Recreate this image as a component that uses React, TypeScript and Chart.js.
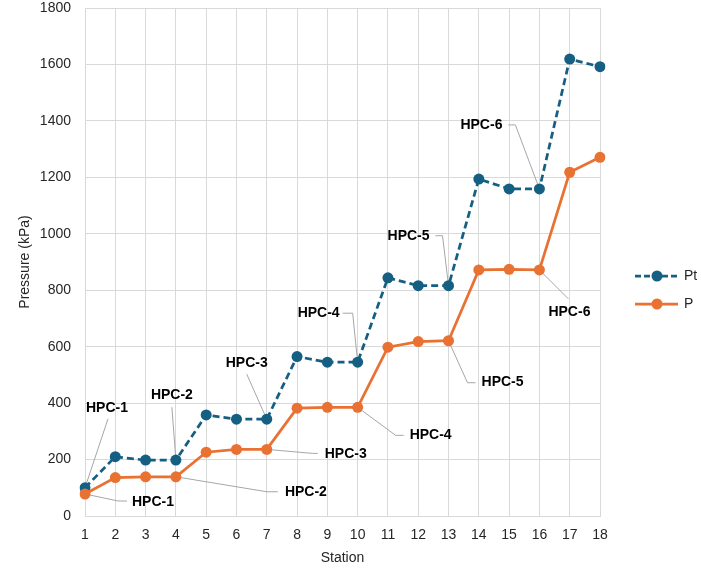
import React, { useEffect, useRef } from 'react';
import { Chart, registerables } from 'chart.js';

Chart.register(...registerables);

// ---------- data ----------
const stations = ['1', '2', '3', '4', '5', '6', '7', '8', '9', '10', '11', '12', '13', '14', '15', '16', '17', '18'];
const seriesNames = ['Pt', 'P'];
const ptValues = [100, 210, 198, 198, 358, 343, 343, 565, 545, 545, 844, 816, 816, 1194, 1159, 1159, 1619, 1592];
const pValues = [78, 136, 139, 139, 226, 236, 236, 382, 385, 385, 598, 618, 621, 872, 874, 872, 1218, 1271];
const yMin = 0;
const yMax = 1800;
const yStep = 200;
const xTitle = 'Station';
const yTitle = 'Pressure (kPa)';
const stageLabels = ['HPC-1', 'HPC-2', 'HPC-3', 'HPC-4', 'HPC-5', 'HPC-6'];
const stageStationIndex = [0, 3, 6, 9, 12, 15];

// ---------- styles / layout ----------
const FONT = '"Liberation Sans", Arial, sans-serif';
const BLUE = '#156082';
const ORANGE = '#E97132';
const GRID = '#D9D9D9';
const TEXT = '#262626';
const LEADER = '#A6A6A6';

// callout placement: offset of label centre from its point, and leader path (relative to label centre)
const ptCallouts = [
  { dx: 22, dy: -80, leader: [[1, 11]] },
  { dx: -4, dy: -65, leader: [[0, 12]] },
  { dx: -20, dy: -56, leader: [[0, 11]] },
  { dx: -39, dy: -49, leader: [[24, 0], [34, 0]] },
  { dx: -40, dy: -50, leader: [[27, 0], [34, 0]] },
  { dx: -58, dy: -64, leader: [[27, 0], [34, 0]] },
];
const pCallouts = [
  { dx: 68, dy: 8, leader: [[-26, -1], [-35, -1]] },
  { dx: 130, dy: 15, leader: [[-28, 0], [-39, 0]] },
  { dx: 79, dy: 5, leader: [[-28, -1], [-33, -1]] },
  { dx: 73, dy: 28, leader: [[-27, 0], [-35, 0]] },
  { dx: 54, dy: 41, leader: [[-27, 1], [-35, 1]] },
  { dx: 30, dy: 42, leader: [[-1, -13]] },
];

const callouts = [
  ...ptCallouts.map((c, i) => ({ ...c, series: 0, index: stageStationIndex[i], text: stageLabels[i] })),
  ...pCallouts.map((c, i) => ({ ...c, series: 1, index: stageStationIndex[i], text: stageLabels[i] })),
];

const calloutPlugin = {
  id: 'callouts',
  beforeDatasetsDraw(chart: any) {
    const ctx = chart.ctx;
    ctx.save();
    ctx.strokeStyle = LEADER;
    ctx.lineWidth = 1;
    ctx.setLineDash([]);
    for (const a of callouts) {
      const el = chart.getDatasetMeta(a.series).data[a.index];
      if (!el) continue;
      const px = el.x, py = el.y;
      const lx = px + a.dx, ly = py + a.dy;
      ctx.beginPath();
      a.leader.forEach(([ox, oy]: number[], i: number) => {
        if (i === 0) ctx.moveTo(lx + ox, ly + oy);
        else ctx.lineTo(lx + ox, ly + oy);
      });
      ctx.lineTo(px, py);
      ctx.stroke();
    }
    ctx.restore();
  },
  afterDatasetsDraw(chart: any) {
    const ctx = chart.ctx;
    ctx.save();
    ctx.font = `bold 14px ${FONT}`;
    ctx.fillStyle = '#000';
    ctx.textAlign = 'center';
    ctx.textBaseline = 'middle';
    for (const a of callouts) {
      const el = chart.getDatasetMeta(a.series).data[a.index];
      if (!el) continue;
      ctx.fillText(a.text, el.x + a.dx, el.y + a.dy);
    }
    ctx.restore();
  },
};

const legendPlugin = {
  id: 'customLegend',
  afterDraw(chart: any) {
    const ctx = chart.ctx;
    const items = [
      { name: seriesNames[0], color: BLUE, dash: [6, 3], y: 276 },
      { name: seriesNames[1], color: ORANGE, dash: [], y: 304 },
    ];
    ctx.save();
    for (const it of items) {
      ctx.strokeStyle = it.color;
      ctx.lineWidth = 2.75;
      ctx.setLineDash(it.dash);
      ctx.beginPath();
      ctx.moveTo(635, it.y);
      ctx.lineTo(678, it.y);
      ctx.stroke();
      ctx.setLineDash([]);
      ctx.fillStyle = it.color;
      ctx.beginPath();
      ctx.arc(657, it.y, 5.5, 0, Math.PI * 2);
      ctx.fill();
      ctx.fillStyle = TEXT;
      ctx.font = `14px ${FONT}`;
      ctx.textAlign = 'left';
      ctx.textBaseline = 'middle';
      ctx.fillText(it.name, 684, it.y);
    }
    ctx.restore();
  },
};

export default function App() {
  const canvasRef = useRef<HTMLCanvasElement | null>(null);

  useEffect(() => {
    if (!canvasRef.current) return;
    const chart = new Chart(canvasRef.current, {
      type: 'line',
      data: {
        labels: stations,
        datasets: [
          {
            label: seriesNames[0],
            data: ptValues,
            borderColor: BLUE,
            backgroundColor: BLUE,
            borderWidth: 2.75,
            borderDash: [7, 4],
            pointRadius: 5.5,
            pointBorderWidth: 0,
            pointBackgroundColor: BLUE,
            tension: 0,
            order: 1,
          },
          {
            label: seriesNames[1],
            data: pValues,
            borderColor: ORANGE,
            backgroundColor: ORANGE,
            borderWidth: 2.75,
            pointRadius: 5.5,
            pointBorderWidth: 0,
            pointBackgroundColor: ORANGE,
            tension: 0,
            order: 0,
          },
        ],
      },
      options: {
        responsive: false,
        animation: false,
        layout: { padding: { left: 0, top: 0, right: 101, bottom: 0 } },
        plugins: {
          legend: { display: false },
          tooltip: { enabled: false },
        },
        scales: {
          x: {
            type: 'category',
            offset: false,
            grid: { color: GRID, lineWidth: 1, drawTicks: false },
            border: { color: GRID, width: 1 },
            ticks: { color: TEXT, font: { family: FONT, size: 14 }, padding: 11, autoSkip: false, maxRotation: 0 },
            title: { display: true, text: xTitle, color: TEXT, font: { family: FONT, size: 14 }, padding: { top: 0, bottom: 6 } },
            afterFit: (scale: any) => { scale.height = 57; },
          },
          y: {
            min: yMin,
            max: yMax,
            grid: { color: GRID, lineWidth: 1, drawTicks: false },
            border: { color: GRID, width: 1 },
            ticks: {
              stepSize: yStep,
              color: TEXT,
              font: { family: FONT, size: 14 },
              padding: 14,
              callback: (v: any) => String(v),
            },
            title: { display: true, text: yTitle, color: TEXT, font: { family: FONT, size: 14 }, padding: { top: 17, bottom: 0 } },
            afterFit: (scale: any) => {
              scale.width = 85;
              scale.paddingTop = 8;
              scale.paddingBottom = 0;
            },
          },
        },
      },
      plugins: [calloutPlugin, legendPlugin],
    });
    return () => chart.destroy();
  }, []);

  return (
    <div style={{ position: 'absolute', left: 0, top: 0, width: 701, height: 573, background: '#fff' }}>
      <canvas ref={canvasRef} width={701} height={573} style={{ display: 'block' }} />
    </div>
  );
}
